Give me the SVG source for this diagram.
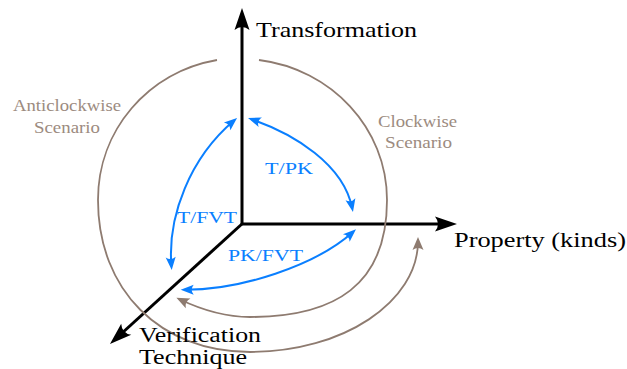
<svg xmlns="http://www.w3.org/2000/svg" width="627" height="369" viewBox="0 0 627 369">
<style>
text{font-family:"Liberation Serif","Times New Roman",serif;}
.big{font-size:22px;fill:#000;}
.vt{font-size:20px;fill:#000;}
.sc{font-size:17px;fill:#9c8b80;}
.bl{font-size:17px;fill:#0a7fff;}
.axis{fill:none;stroke:#000;stroke-width:3;}
.blue{fill:none;stroke:#0a7fff;stroke-width:2;}
.brown{fill:none;stroke:#8e7b70;stroke-width:1.8;}
</style>
<defs>
<marker id="ah" markerUnits="userSpaceOnUse" viewBox="-17 -8 24 16" markerWidth="24" markerHeight="16" refX="0" refY="0" orient="auto-start-reverse">
<path d="M6,0 L-16,-7.5 Q-10,0 -16,7.5 Z" fill="#000"/>
</marker>
<marker id="bh" markerUnits="userSpaceOnUse" viewBox="-10 -6 15 12" markerWidth="15" markerHeight="12" refX="0" refY="0" orient="auto-start-reverse">
<path d="M4,0 L-9,-5 Q-5,0 -9,5 Z" fill="#0a7fff"/>
</marker>
<marker id="rh" markerUnits="userSpaceOnUse" viewBox="-10 -6 15 12" markerWidth="15" markerHeight="12" refX="0" refY="0" orient="auto-start-reverse">
<path d="M4,0 L-9,-5.5 Q-5,0 -9,5.5 Z" fill="#8e7b70"/>
</marker>
</defs>
<g id="connectors">
<path id="axis-t-pk" class="axis" d="M242,14 L242,224 L451,224" marker-start="url(#ah)" marker-end="url(#ah)"/>
<path id="axis-fvt" class="axis" d="M243,223 L114.4,340" marker-end="url(#ah)"/>
<path id="arc-anticlockwise" class="brown" d="M217,60 C148,72 98,130 98,200 C98,290 160,352 250,352 C343,352 418,302 418,241" marker-end="url(#rh)"/>
<path id="arc-clockwise" class="brown" d="M259,60 C331,69 387,128 387,200 C387,285 335,317 250,317 C225,317 200,309 180,299.5" marker-end="url(#rh)"/>
<path id="arc-t-pk" class="blue" d="M251.8,119.3 C294,134 343.4,164 352.2,208.1" marker-start="url(#bh)" marker-end="url(#bh)"/>
<path id="arc-t-fvt" class="blue" d="M234,120.6 C190,158 167.4,216 171.4,266" marker-start="url(#bh)" marker-end="url(#bh)"/>
<path id="arc-pk-fvt" class="blue" d="M184.7,289.8 C240,290 315,266 353,232" marker-start="url(#bh)" marker-end="url(#bh)"/>
</g>
<g id="node-transformation"><text class="big" x="256" y="37" textLength="161" lengthAdjust="spacingAndGlyphs">Transformation</text></g>
<g id="node-property"><text class="big" x="454" y="247" textLength="172" lengthAdjust="spacingAndGlyphs">Property (kinds)</text></g>
<g id="node-verification"><text class="vt" x="139" y="341.5" textLength="122" lengthAdjust="spacingAndGlyphs">Verification</text><text class="vt" x="139" y="364" textLength="108" lengthAdjust="spacingAndGlyphs">Technique</text></g>
<g id="node-anticlockwise"><text class="sc" x="13" y="111" textLength="108" lengthAdjust="spacingAndGlyphs">Anticlockwise</text><text class="sc" x="34" y="133" textLength="66" lengthAdjust="spacingAndGlyphs">Scenario</text></g>
<g id="node-clockwise"><text class="sc" x="378" y="127" textLength="79" lengthAdjust="spacingAndGlyphs">Clockwise</text><text class="sc" x="385" y="148" textLength="67" lengthAdjust="spacingAndGlyphs">Scenario</text></g>
<g id="label-t-pk"><text class="bl" x="265" y="174" textLength="48" lengthAdjust="spacingAndGlyphs">T/PK</text></g>
<g id="label-t-fvt"><text class="bl" x="177" y="223" textLength="60" lengthAdjust="spacingAndGlyphs">T/FVT</text></g>
<g id="label-pk-fvt"><text class="bl" x="228" y="261" textLength="75" lengthAdjust="spacingAndGlyphs">PK/FVT</text></g>
</svg>
